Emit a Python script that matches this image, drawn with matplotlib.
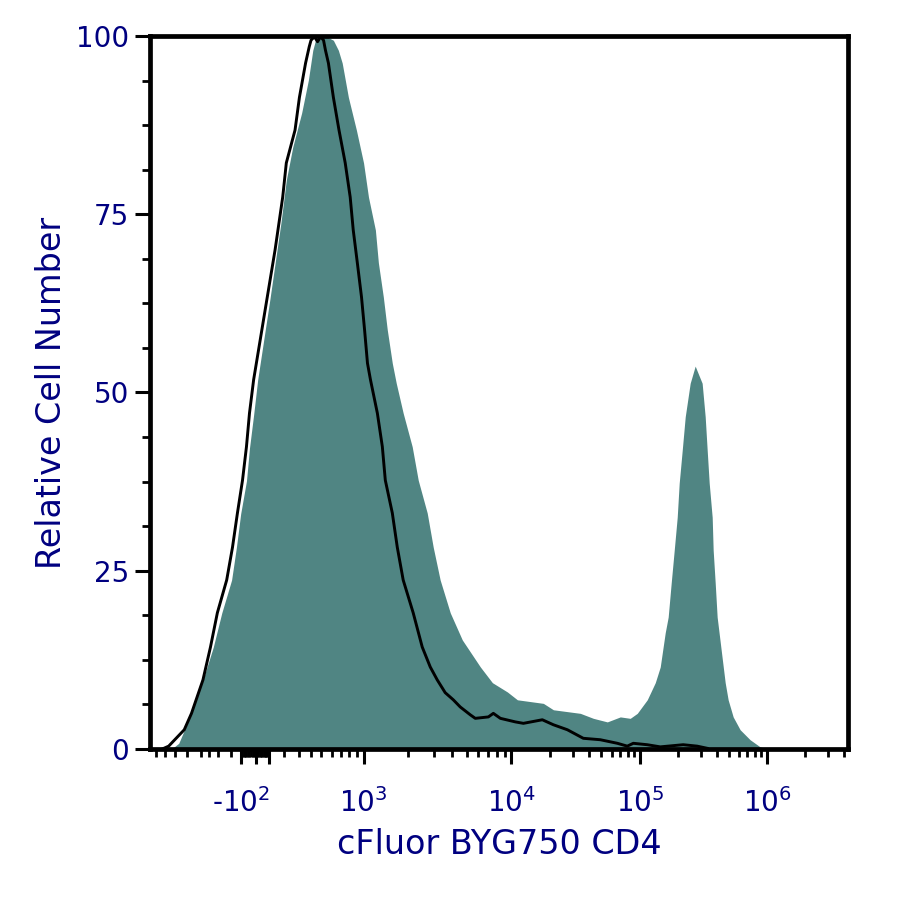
import matplotlib
matplotlib.use('Agg')
import matplotlib.pyplot as plt
import numpy as np

# CD4-stained sample (filled histogram): intensity, % of max
cd4_x = [-736, -670, -566, -470, -350, -270, -190, -140, -100, -60, -40, -13, 15,
         107, 180, 216, 257, 322, 378, 419, 451, 542, 617, 669, 712, 786, 893,
         1000, 1081, 1205, 1263, 1365, 1452, 1571, 1671, 1862, 2143, 2354, 2707,
         2972, 3311, 3872, 4667, 6180, 7447, 9397, 11130, 17700, 21180, 34280,
         43250, 55500, 70000, 83600, 94800, 113500, 131300, 143700, 157300,
         166000, 175400, 185300, 195600, 202800, 214200, 226200, 247500, 271000,
         307500, 325000, 337000, 349500, 369000, 375600, 389700, 403800, 434300,
         467200, 493000, 540000, 612800, 734000, 881000, 1020000]
cd4_y = [0.0, 0.8, 5.0, 9.7, 14.3, 19.1, 23.7, 28.3, 33.0, 37.6, 42.2, 46.9, 51.8,
         63.0, 73.8, 79.8, 84.4, 89.2, 93.8, 98.0, 99.7, 100.0, 99.4, 98.0, 96.2,
         91.4, 86.8, 82.2, 77.4, 72.8, 68.2, 63.4, 58.8, 54.1, 51.3, 47.1, 42.4,
         37.7, 33.1, 28.3, 23.7, 19.1, 15.3, 11.5, 9.3, 8.0, 6.9, 6.4, 5.5, 5.0,
         4.3, 3.8, 4.5, 4.3, 5.0, 6.9, 9.3, 11.5, 16.3, 18.5, 23.3, 27.9, 32.5,
         37.3, 41.9, 46.6, 51.3, 53.7, 51.3, 46.6, 41.9, 37.3, 32.5, 27.9, 23.3,
         18.5, 13.9, 9.3, 6.9, 4.5, 2.7, 1.3, 0.3, 0.0]

# unstained control (black outline)
ctrl_x = [-830, -764, -623, -566, -470, -380, -310, -230, -180, -130, -87, -60,
          -40, -13, 85, 140, 193, 216, 273, 305, 354, 386, 402, 435, 467, 500,
          525, 542, 569, 617, 676, 747, 809, 849, 906, 968, 1016, 1064, 1115,
          1243, 1344, 1408, 1571, 1698, 1862, 2176, 2505, 2838, 3162, 3580, 4059,
          4519, 5280, 5710, 6998, 7557, 8430, 10740, 12390, 17380, 21180, 27190,
          36150, 48960, 66400, 79300, 88300, 113500, 143700, 218000, 281000, 337000]
ctrl_y = [0.0, 0.4, 2.7, 5.0, 9.7, 14.3, 19.1, 23.7, 28.3, 33.1, 37.7, 42.4,
          47.1, 51.8, 63.0, 70.0, 77.4, 82.2, 86.8, 91.4, 96.2, 98.5, 99.4, 99.9,
          99.2, 99.9, 99.4, 98.0, 96.2, 91.4, 86.8, 82.2, 77.4, 72.8, 68.2, 63.4,
          58.8, 54.1, 51.8, 47.1, 42.4, 37.7, 33.1, 28.3, 23.7, 19.1, 14.3, 11.5,
          9.7, 7.9, 6.9, 5.9, 4.8, 4.3, 4.5, 5.0, 4.3, 3.8, 3.6, 4.1, 3.4, 2.7,
          1.5, 1.3, 0.8, 0.4, 0.8, 0.6, 0.3, 0.6, 0.4, 0.1]

x_major = [-100, 0, 100, 1e3, 1e4, 1e5, 1e6]
x_major_labels = [r'-$\mathregular{10^{2}}$', '', '', r'$\mathregular{10^{3}}$',
                  r'$\mathregular{10^{4}}$', r'$\mathregular{10^{5}}$',
                  r'$\mathregular{10^{6}}$']
y_major = [0, 25, 50, 75, 100]

# biexponential-like display scale (anchors of the transform)
SCALE_VALS = np.array([-1e4, -1000, -500, -200, -100, 0, 100, 200, 500, 1000,
                       1e4, 1e5, 1e6, 1e7])
SCALE_POS = np.array([-807, 147, 200, 230, 240, 255, 268, 283, 320, 363,
                      511, 640, 767, 894], dtype=float)
SCALE_A = np.arcsinh(SCALE_VALS / 200.0)


def biex_fwd(x):
    return np.interp(np.arcsinh(np.asarray(x, dtype=float) / 200.0), SCALE_A, SCALE_POS)


def biex_inv(p):
    return 200.0 * np.sinh(np.interp(np.asarray(p, dtype=float), SCALE_POS, SCALE_A))


FILL = '#508583'
NAVY = '#000080'

fig = plt.figure(figsize=(9, 9), dpi=100)
ax = fig.add_axes([150 / 900, 151 / 900, 698 / 900, 713 / 900])
ax.set_xscale('function', functions=(biex_fwd, biex_inv))

ax.fill_between(cd4_x, cd4_y, 0, color=FILL, linewidth=0)
ax.plot(ctrl_x, ctrl_y, color='black', linewidth=2.1)

ax.set_xlim(-972, 4.34e6)
ax.set_ylim(0, 100)

# x ticks
minor = list(np.arange(-900, -100, 100)) + list(np.arange(-90, 0, 10)) + \
    list(np.arange(10, 100, 10)) + list(np.arange(200, 1000, 100))
for d in [1e3, 1e4, 1e5]:
    minor += [k * d for k in range(2, 10)]
minor += [2e6, 3e6, 4e6]
ax.xaxis.set_major_locator(matplotlib.ticker.FixedLocator(x_major))
ax.xaxis.set_minor_locator(matplotlib.ticker.FixedLocator(minor))
ax.set_xticklabels(x_major_labels)

ax.yaxis.set_major_locator(matplotlib.ticker.FixedLocator(y_major))
ax.yaxis.set_minor_locator(matplotlib.ticker.MultipleLocator(6.25))
ax.set_yticklabels([str(v) for v in y_major])

ax.tick_params(which='major', length=11, width=2.2, color='black',
               labelcolor=NAVY, labelsize=20)
ax.tick_params(which='minor', length=6, width=2.0, color='black')
ax.tick_params(axis='x', which='major', pad=17)
ax.tick_params(axis='y', which='major', pad=4)

for s in ax.spines.values():
    s.set_linewidth(3.4)
    s.set_color('black')

ax.set_xlabel('cFluor BYG750 CD4', fontsize=24, color=NAVY, labelpad=7)
ax.set_ylabel('Relative Cell Number', fontsize=24, color=NAVY, labelpad=6)

plt.savefig('out.png', dpi=100)
